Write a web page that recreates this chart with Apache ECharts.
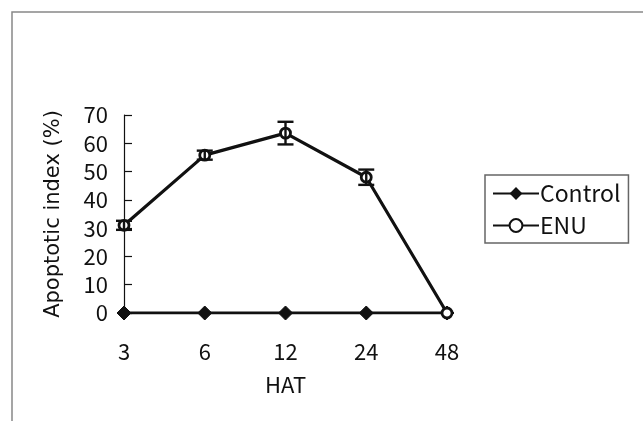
<!DOCTYPE html>
<html>
<head>
<meta charset="utf-8">
<script src="https://cdn.jsdelivr.net/npm/echarts@6/dist/echarts.min.js"></script>
<style>
  html, body { margin: 0; padding: 0; background: #fff; }
  #chart { width: 643px; height: 421px; }
</style>
</head>
<body>
<div id="chart"></div>
<script>
// HAT categories
const hours = ['3', '6', '12', '24', '48'];
// apoptotic index (%)
const controlValues = [0, 0, 0, 0, 0];
const enuValues = [31, 55.8, 63.6, 48, 0];
// error bar half heights for ENU
const enuErrors = [1.6, 1.6, 4, 2.7, 0];

const FONT = '"Noto Sans CJK JP", "DejaVu Sans", sans-serif';
const INK = '#111';

const chart = echarts.init(document.getElementById('chart'));

const errorData = hours.map((h, i) => [i, enuValues[i] - enuErrors[i], enuValues[i] + enuErrors[i]]);

const option = {
  animation: false,
  backgroundColor: '#fff',
  textStyle: { fontFamily: FONT, color: INK },
  graphic: [{
    type: 'rect',
    shape: { x: 12, y: 12, width: 700, height: 500 },
    style: { fill: 'none', stroke: '#888', lineWidth: 1.5 },
    silent: true
  }],
  grid: { left: 124, right: 196, top: 115, bottom: 108 },
  legend: {
    orient: 'vertical',
    left: 485,
    top: 175,
    data: ['Control', 'ENU'],
    itemWidth: 46,
    itemHeight: 16,
    itemGap: 9,
    padding: [7, 8, 6, 7],
    borderColor: '#666',
    borderWidth: 1.5,
    backgroundColor: '#fff',
    textStyle: { fontFamily: FONT, fontSize: 23, color: INK, padding: [0, 0, 0, -4] }
  },
  xAxis: {
    type: 'category',
    data: hours,
    boundaryGap: false,
    name: 'HAT',
    nameLocation: 'middle',
    nameGap: 61,
    nameTextStyle: { fontFamily: FONT, fontSize: 22, color: INK },
    axisLine: { lineStyle: { color: INK, width: 1.5 } },
    axisTick: { show: false },
    axisLabel: { fontFamily: FONT, fontSize: 22, color: INK, margin: 28 },
    splitLine: { show: false }
  },
  yAxis: {
    type: 'value',
    min: 0,
    max: 70,
    interval: 10,
    name: 'Apoptotic index (%)',
    nameLocation: 'middle',
    nameGap: 60,
    nameTextStyle: { fontFamily: '"DejaVu Sans", sans-serif', fontSize: 21, color: INK },
    axisLine: { show: true, lineStyle: { color: INK, width: 1.2 } },
    axisTick: { show: true, inside: true, length: 8, lineStyle: { color: INK, width: 1.2 } },
    axisLabel: { fontFamily: FONT, fontSize: 22, color: INK, margin: 16 },
    splitLine: { show: false }
  },
  series: [
    {
      name: 'Control',
      type: 'line',
      data: controlValues,
      symbol: 'diamond',
      symbolSize: 14,
      lineStyle: { color: INK, width: 2.8 },
      itemStyle: { color: INK, borderColor: INK },
      z: 3
    },
    {
      name: 'ENU',
      type: 'line',
      data: enuValues,
      symbol: 'circle',
      symbolSize: 10,
      lineStyle: { color: INK, width: 3.2 },
      itemStyle: { color: '#fff', borderColor: INK, borderWidth: 2.8 },
      z: 4
    },
    {
      name: 'ENU error',
      type: 'custom',
      data: errorData,
      z: 5,
      renderItem: function (params, api) {
        const x = api.value(0);
        const lo = api.coord([x, api.value(1)]);
        const hi = api.coord([x, api.value(2)]);
        if (Math.abs(hi[1] - lo[1]) < 1) return null;
        const hw = 8;
        const st = { stroke: INK, lineWidth: 2.4 };
        return {
          type: 'group',
          children: [
            { type: 'line', shape: { x1: lo[0], y1: lo[1], x2: hi[0], y2: hi[1] }, style: st },
            { type: 'line', shape: { x1: lo[0] - hw, y1: lo[1], x2: lo[0] + hw, y2: lo[1] }, style: st },
            { type: 'line', shape: { x1: hi[0] - hw, y1: hi[1], x2: hi[0] + hw, y2: hi[1] }, style: st }
          ]
        };
      }
    }
  ]
};

chart.setOption(option);
</script>
</body>
</html>
